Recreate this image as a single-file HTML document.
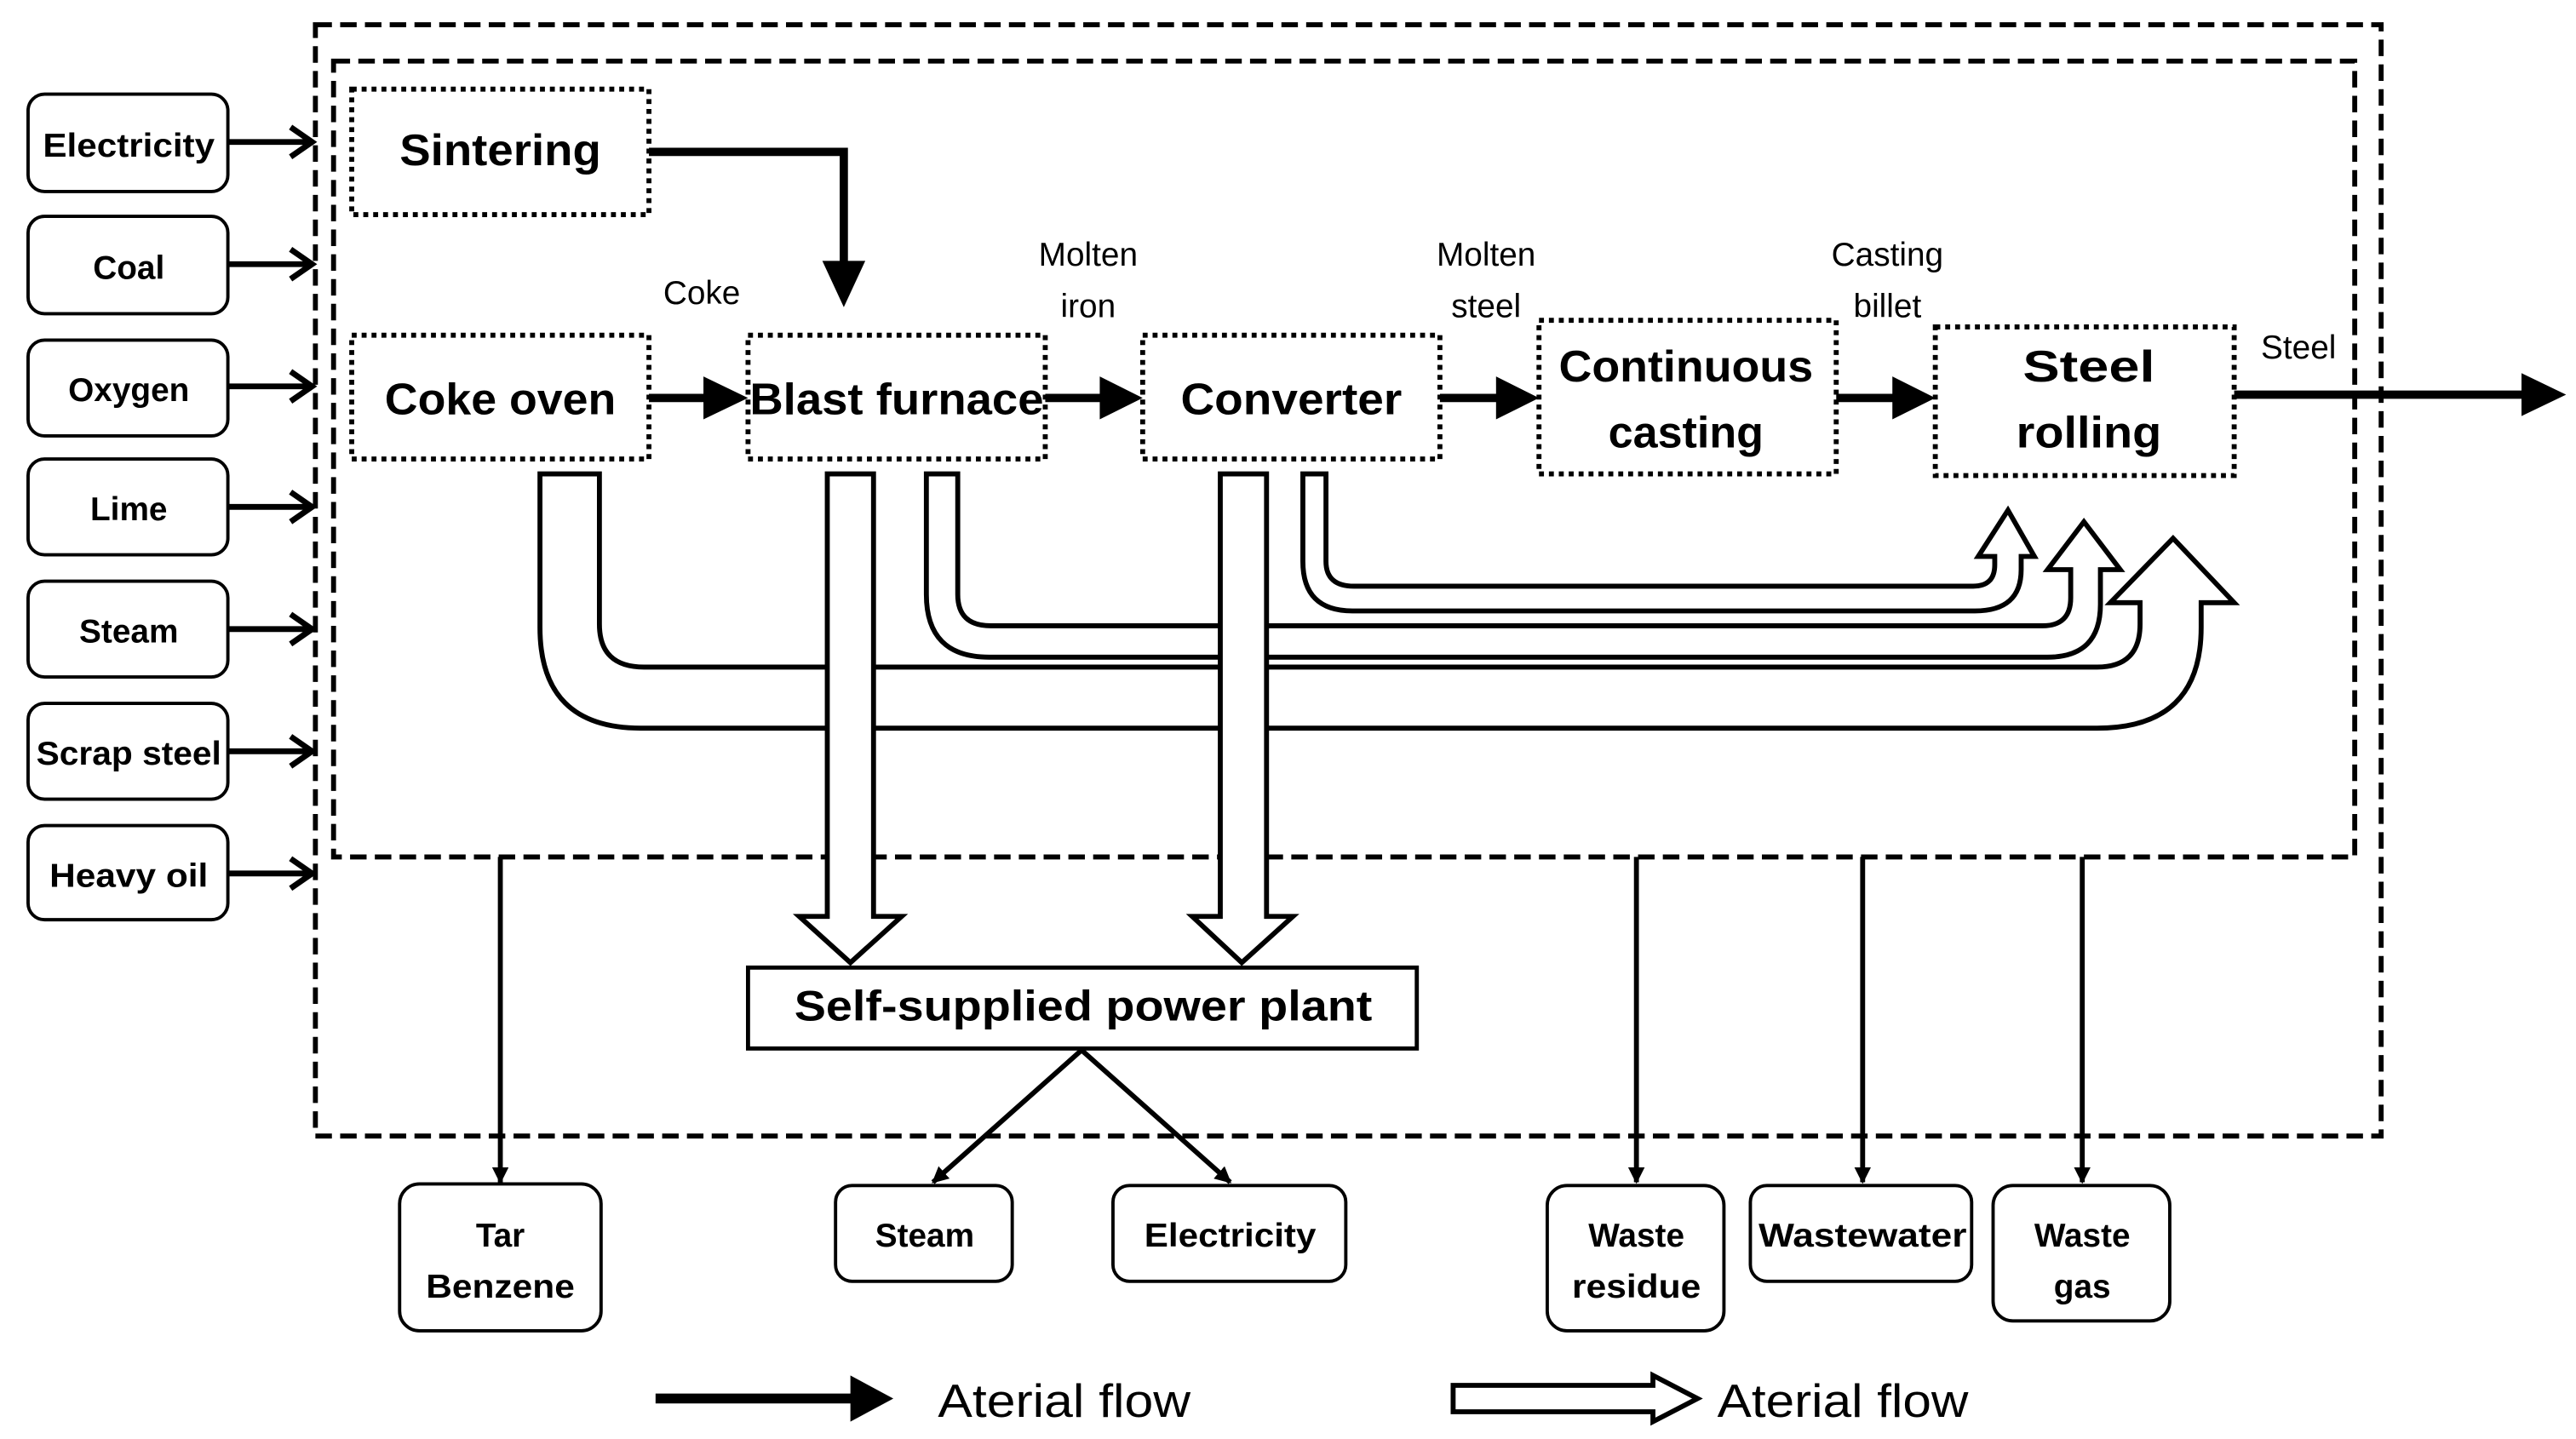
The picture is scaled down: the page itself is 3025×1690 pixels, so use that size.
<!DOCTYPE html>
<html><head><meta charset="utf-8"><style>html,body{margin:0;padding:0;background:#fff}svg{display:block}</style></head>
<body>
<svg width="3025" height="1690" viewBox="0 0 1560 871.5" preserveAspectRatio="none" xmlns="http://www.w3.org/2000/svg" font-family="Liberation Sans, sans-serif">
<defs>
<marker id="ah" markerWidth="10" markerHeight="10" refX="9" refY="5" orient="auto" markerUnits="userSpaceOnUse"><path d="M0,0 L10,5 L0,10 Z" fill="#000"/></marker>
</defs>
<rect width="1560" height="872" fill="#fff"/>
<!-- outer dashed rects -->
<rect x="191" y="15" width="1251" height="673" fill="none" stroke="#000" stroke-width="3" stroke-dasharray="10,5"/>
<rect x="202" y="37" width="1224" height="482" fill="none" stroke="#000" stroke-width="3" stroke-dasharray="10,5"/>

<!-- left inputs -->
<g stroke="#000" stroke-width="2" fill="#fff">
<rect x="17" y="57" width="121" height="59" rx="10"/>
<rect x="17" y="131" width="121" height="59" rx="10"/>
<rect x="17" y="206" width="121" height="58" rx="10"/>
<rect x="17" y="278" width="121" height="58" rx="10"/>
<rect x="17" y="352" width="121" height="58" rx="10"/>
<rect x="17" y="426" width="121" height="58" rx="10"/>
<rect x="17" y="500" width="121" height="57" rx="10"/>
</g>
<g font-weight="bold" font-size="20" text-anchor="middle" fill="#000">
<text x="78" y="95" textLength="104" lengthAdjust="spacingAndGlyphs">Electricity</text>
<text x="78" y="169">Coal</text>
<text x="78" y="243">Oxygen</text>
<text x="78" y="315">Lime</text>
<text x="78" y="389">Steam</text>
<text x="78" y="463" textLength="112" lengthAdjust="spacingAndGlyphs">Scrap steel</text>
<text x="78" y="537" textLength="96" lengthAdjust="spacingAndGlyphs">Heavy oil</text>
</g>
<g stroke="#000" stroke-width="3.5" fill="none">
<path d="M138,86 H189 M176,77 L189,86 L176,95"/>
<path d="M138,160 H189 M176,151 L189,160 L176,169"/>
<path d="M138,234 H189 M176,225 L189,234 L176,243"/>
<path d="M138,307 H189 M176,298 L189,307 L176,316"/>
<path d="M138,381 H189 M176,372 L189,381 L176,390"/>
<path d="M138,455 H189 M176,446 L189,455 L176,464"/>
<path d="M138,529 H189 M176,520 L189,529 L176,538"/>
</g>

<!-- process boxes -->
<g stroke="#000" stroke-width="3" stroke-dasharray="3,3" fill="none">
<rect x="213" y="54" width="180" height="76"/>
<rect x="213" y="203" width="180" height="75"/>
<rect x="453" y="203" width="180" height="75"/>
<rect x="692" y="203" width="180" height="75"/>
<rect x="932" y="194" width="180" height="93"/>
<rect x="1172" y="198" width="181" height="90"/>
</g>
<g font-weight="bold" font-size="27" text-anchor="middle" fill="#000">
<text x="303" y="100" textLength="122" lengthAdjust="spacingAndGlyphs">Sintering</text>
<text x="303" y="251" textLength="140" lengthAdjust="spacingAndGlyphs">Coke oven</text>
<text x="543" y="251" textLength="178" lengthAdjust="spacingAndGlyphs">Blast furnace</text>
<text x="782" y="251" textLength="134" lengthAdjust="spacingAndGlyphs">Converter</text>
<text x="1021" y="231" textLength="154" lengthAdjust="spacingAndGlyphs">Continuous</text>
<text x="1021" y="271" textLength="94" lengthAdjust="spacingAndGlyphs">casting</text>
<text x="1265" y="231" textLength="80" lengthAdjust="spacingAndGlyphs">Steel</text>
<text x="1265" y="271" textLength="88" lengthAdjust="spacingAndGlyphs">rolling</text>
</g>
<!-- flow labels -->
<g font-size="20" text-anchor="middle" fill="#000">
<text x="425" y="184">Coke</text>
<text x="659" y="161">Molten</text><text x="659" y="192">iron</text>
<text x="900" y="161">Molten</text><text x="900" y="192">steel</text>
<text x="1143" y="161">Casting</text><text x="1143" y="192">billet</text>
<text x="1392" y="217">Steel</text>
</g>
<!-- solid flow arrows -->
<g stroke="#000" stroke-width="5" fill="none">
<path d="M393,92 H511 V160"/>
<path d="M393,241 H428"/>
<path d="M633,241 H668"/>
<path d="M872,241 H908"/>
<path d="M1112,241 H1148"/>
<path d="M1353,239 H1528"/>
</g>
<g fill="#000">
<path d="M498,158 L524,158 L511,186 Z"/>
<path d="M426,228 L453,241 L426,254 Z"/>
<path d="M666,228 L692,241 L666,254 Z"/>
<path d="M906,228 L932,241 L906,254 Z"/>
<path d="M1146,228 L1172,241 L1146,254 Z"/>
<path d="M1527,226 L1554,239 L1527,252 Z"/>
</g>

<!-- hollow pipes -->
<g stroke="#000" stroke-width="3" fill="#fff" stroke-linejoin="miter">
<path d="M327,287 L327,380 Q327,441 388,441 L1270,441 Q1333,441 1333,380 L1333,365 L1353,365 L1316,326 L1278,365 L1296,365 L1296,378 Q1296,404 1270,404 L390,404 Q363,404 363,378 L363,287 Z"/>
<path d="M561,287 L561,360 Q561,398 599,398 L1240,398 Q1272,398 1272,366 L1272,345 L1284,345 L1262,316 L1240,345 L1254,345 L1254,362 Q1254,379 1237,379 L600,379 Q580,379 580,360 L580,287 Z"/>
<path d="M789,287 L789,340 Q789,370 819,370 L1196,370 Q1224,370 1224,345 L1224,337 L1232,337 L1216,309 L1198,337 L1208,337 L1208,342 Q1208,355 1195,355 L820,355 Q803,355 803,340 L803,287 Z"/>
<path d="M501,287 L501,555 L484,555 L515,583 L546,555 L529,555 L529,287 Z"/>
<path d="M739,287 L739,555 L722,555 L752,583 L783,555 L767,555 L767,287 Z"/>
</g>

<!-- power plant -->
<rect x="453" y="586" width="405" height="49" fill="#fff" stroke="#000" stroke-width="2.5"/>
<text x="656" y="618" font-weight="bold" font-size="26" text-anchor="middle" textLength="350" lengthAdjust="spacingAndGlyphs">Self-supplied power plant</text>

<!-- output arrows -->
<g stroke="#000" stroke-width="3" fill="none" marker-end="url(#ah)">
<path d="M303,519 V716"/>
<path d="M991,519 V716"/>
<path d="M1128,519 V716"/>
<path d="M1261,519 V716"/>
<path d="M655,636 L565,716"/>
<path d="M655,636 L745,716"/>
</g>

<!-- bottom outputs -->
<g stroke="#000" stroke-width="2" fill="#fff">
<rect x="242" y="717" width="122" height="89" rx="12"/>
<rect x="506" y="718" width="107" height="58" rx="10"/>
<rect x="674" y="718" width="141" height="58" rx="10"/>
<rect x="937" y="718" width="107" height="88" rx="12"/>
<rect x="1060" y="718" width="134" height="58" rx="10"/>
<rect x="1207" y="718" width="107" height="82" rx="12"/>
</g>
<g font-weight="bold" font-size="20" text-anchor="middle" fill="#000">
<text x="303" y="755">Tar</text><text x="303" y="786" textLength="90" lengthAdjust="spacingAndGlyphs">Benzene</text>
<text x="560" y="755">Steam</text>
<text x="745" y="755" textLength="104" lengthAdjust="spacingAndGlyphs">Electricity</text>
<text x="991" y="755">Waste</text><text x="991" y="786" textLength="78" lengthAdjust="spacingAndGlyphs">residue</text>
<text x="1128" y="755" textLength="126" lengthAdjust="spacingAndGlyphs">Wastewater</text>
<text x="1261" y="755">Waste</text><text x="1261" y="786">gas</text>
</g>

<!-- legend -->
<path d="M397,847 H518" stroke="#000" stroke-width="6"/>
<path d="M515,833 L541,847 L515,861 Z" fill="#000"/>
<text x="568" y="858" font-size="28" textLength="153" lengthAdjust="spacingAndGlyphs">Aterial flow</text>
<path d="M880,839 L1001,839 L1001,833 L1028,847 L1001,861 L1001,855 L880,855 Z" fill="#fff" stroke="#000" stroke-width="3"/>
<text x="1040" y="858" font-size="28" textLength="152" lengthAdjust="spacingAndGlyphs">Aterial flow</text>
</svg>
</body></html>
